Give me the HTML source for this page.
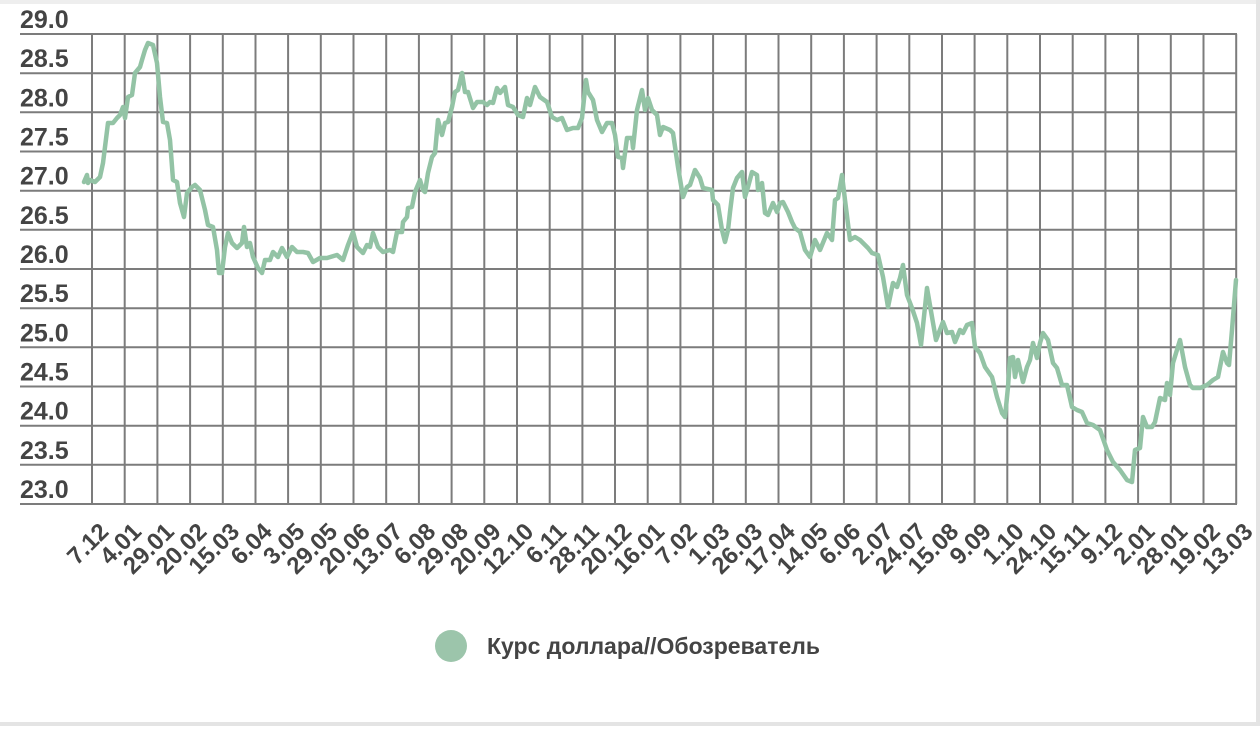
<!DOCTYPE html>
<html><head><meta charset="utf-8"><style>
html,body{margin:0;padding:0;background:#fff;}
body{width:1260px;height:726px;overflow:hidden;}
</style></head><body>
<svg width="1260" height="726" viewBox="0 0 1260 726" xmlns="http://www.w3.org/2000/svg" font-family="Liberation Sans, sans-serif">
<rect x="0" y="0" width="1260" height="726" fill="#fff"/>
<rect x="0" y="0" width="1260" height="4" fill="#eeeeee"/>
<rect x="1256" y="0" width="4" height="726" fill="#e4e4e4"/>
<rect x="0" y="722" width="1260" height="4" fill="#e4e4e4"/>
<path stroke="#6e6e6e" stroke-width="2" opacity="0.9" fill="none" d="
M20 34H1237M20 73.2H1237M20 112.3H1237M20 151.5H1237M20 190.7H1237M20 229.8H1237M20 269H1237M20 308.2H1237M20 347.3H1237M20 386.5H1237M20 425.7H1237M20 464.8H1237M20 504H1237
M92 34V504M124.7 34V504M157.4 34V504M190.1 34V504M222.8 34V504M255.5 34V504M288.1 34V504M320.8 34V504M353.5 34V504M386.2 34V504M418.9 34V504M451.6 34V504M484.3 34V504M517 34V504M549.7 34V504M582.4 34V504M615 34V504M647.7 34V504M680.4 34V504M713.1 34V504M745.8 34V504M778.5 34V504M811.2 34V504M843.9 34V504M876.6 34V504M909.3 34V504M942 34V504M974.6 34V504M1007.3 34V504M1040 34V504M1072.7 34V504M1105.4 34V504M1138.1 34V504M1170.8 34V504M1203.5 34V504M1236.2 34V504"/>
<g fill="#444" font-size="25" font-weight="bold">
<text x="20" y="28">29.0</text><text x="20" y="67.2">28.5</text><text x="20" y="106.3">28.0</text><text x="20" y="145.5">27.5</text><text x="20" y="184.7">27.0</text><text x="20" y="223.8">26.5</text><text x="20" y="263">26.0</text><text x="20" y="302.2">25.5</text><text x="20" y="341.3">25.0</text><text x="20" y="380.5">24.5</text><text x="20" y="419.7">24.0</text><text x="20" y="458.8">23.5</text><text x="20" y="498">23.0</text>
</g>
<g fill="#444" font-size="24" font-weight="bold" text-anchor="end">
<text x="110" y="533" transform="rotate(-45 110 533)">7.12</text>
<text x="142.7" y="533" transform="rotate(-45 142.7 533)">4.01</text>
<text x="175.4" y="533" transform="rotate(-45 175.4 533)">29.01</text>
<text x="208.1" y="533" transform="rotate(-45 208.1 533)">20.02</text>
<text x="240.8" y="533" transform="rotate(-45 240.8 533)">15.03</text>
<text x="273.5" y="533" transform="rotate(-45 273.5 533)">6.04</text>
<text x="306.1" y="533" transform="rotate(-45 306.1 533)">3.05</text>
<text x="338.8" y="533" transform="rotate(-45 338.8 533)">29.05</text>
<text x="371.5" y="533" transform="rotate(-45 371.5 533)">20.06</text>
<text x="404.2" y="533" transform="rotate(-45 404.2 533)">13.07</text>
<text x="436.9" y="533" transform="rotate(-45 436.9 533)">6.08</text>
<text x="469.6" y="533" transform="rotate(-45 469.6 533)">29.08</text>
<text x="502.3" y="533" transform="rotate(-45 502.3 533)">20.09</text>
<text x="535" y="533" transform="rotate(-45 535 533)">12.10</text>
<text x="567.7" y="533" transform="rotate(-45 567.7 533)">6.11</text>
<text x="600.4" y="533" transform="rotate(-45 600.4 533)">28.11</text>
<text x="633" y="533" transform="rotate(-45 633 533)">20.12</text>
<text x="665.7" y="533" transform="rotate(-45 665.7 533)">16.01</text>
<text x="698.4" y="533" transform="rotate(-45 698.4 533)">7.02</text>
<text x="731.1" y="533" transform="rotate(-45 731.1 533)">1.03</text>
<text x="763.8" y="533" transform="rotate(-45 763.8 533)">26.03</text>
<text x="796.5" y="533" transform="rotate(-45 796.5 533)">17.04</text>
<text x="829.2" y="533" transform="rotate(-45 829.2 533)">14.05</text>
<text x="861.9" y="533" transform="rotate(-45 861.9 533)">6.06</text>
<text x="894.6" y="533" transform="rotate(-45 894.6 533)">2.07</text>
<text x="927.3" y="533" transform="rotate(-45 927.3 533)">24.07</text>
<text x="960" y="533" transform="rotate(-45 960 533)">15.08</text>
<text x="992.6" y="533" transform="rotate(-45 992.6 533)">9.09</text>
<text x="1025.3" y="533" transform="rotate(-45 1025.3 533)">1.10</text>
<text x="1058" y="533" transform="rotate(-45 1058 533)">24.10</text>
<text x="1090.7" y="533" transform="rotate(-45 1090.7 533)">15.11</text>
<text x="1123.4" y="533" transform="rotate(-45 1123.4 533)">9.12</text>
<text x="1156.1" y="533" transform="rotate(-45 1156.1 533)">2.01</text>
<text x="1188.8" y="533" transform="rotate(-45 1188.8 533)">28.01</text>
<text x="1221.5" y="533" transform="rotate(-45 1221.5 533)">19.02</text>
<text x="1254.2" y="533" transform="rotate(-45 1254.2 533)">13.03</text>
</g>
<polyline fill="none" stroke="#93c3a5" stroke-width="4.5" stroke-linejoin="round" stroke-linecap="round" points="84,182 87,175 88,183 90,180 95,182 100,177 103,163 108,123 113,123 117,118 120,115 123,107 125,118 128,97 132,95 135,73 140,67 142,60 145,50 148,43 153,45 157,63 160,97 163,122 167,123 170,140 173,180 177,182 180,203 184,217 187,193 192,187 195,185 200,190 205,210 208,225 213,227 217,250 219,273 222,273 225,247 228,233 232,243 237,248 242,243 244,227 247,247 250,243 253,257 258,268 262,273 265,260 270,260 273,252 278,257 282,248 287,257 292,247 297,252 303,252 308,253 313,262 320,258 327,258 337,255 343,260 348,245 353,232 357,247 363,253 367,245 370,247 373,233 378,247 383,252 390,250 393,252 397,232 402,232 403,222 407,217 408,208 412,207 415,192 420,180 423,190 425,192 428,173 432,157 435,153 438,120 442,135 445,123 448,122 452,107 455,92 458,90 462,73 465,92 468,92 473,108 477,102 483,102 487,105 490,102 493,103 497,88 500,93 505,87 508,105 513,107 518,115 523,117 527,98 530,105 535,87 540,97 547,102 552,117 557,120 562,118 567,130 573,128 578,128 582,118 586,80 588,92 593,100 597,120 602,132 607,123 612,123 615,135 618,157 622,158 623,168 627,138 632,138 633,148 637,110 642,90 645,110 648,98 652,110 657,115 660,135 663,127 670,130 673,133 678,167 683,197 687,187 690,185 695,170 700,178 703,188 712,190 713,200 718,205 722,230 725,242 728,230 730,212 733,188 737,178 742,172 745,197 748,187 752,172 757,175 758,190 762,183 765,213 768,215 773,203 777,212 780,203 783,202 788,212 792,222 795,228 800,232 805,250 810,257 815,240 820,250 827,233 832,240 835,200 838,198 842,175 845,200 850,240 855,237 860,240 865,245 868,248 872,253 878,255 883,277 888,307 893,283 897,287 900,278 903,265 907,295 912,308 917,323 921,345 927,288 932,317 936,340 943,322 947,333 952,332 955,342 960,330 963,333 967,325 972,323 975,347 980,353 985,367 992,377 997,397 1002,413 1005,417 1008,387 1010,358 1013,357 1015,377 1018,360 1023,382 1027,367 1030,360 1033,343 1037,358 1040,343 1043,333 1048,340 1053,363 1057,368 1062,385 1067,385 1072,407 1077,410 1082,412 1087,423 1093,425 1100,430 1107,450 1113,462 1120,470 1127,480 1132,482 1135,450 1140,448 1143,417 1147,427 1152,427 1155,422 1160,398 1165,400 1167,383 1170,395 1173,363 1180,340 1185,367 1190,385 1193,388 1200,388 1207,385 1213,380 1218,377 1223,352 1227,363 1229,365 1232,330 1236,280"/>
<circle cx="451" cy="646" r="16" fill="#9cc5ab"/>
<text x="487" y="654" fill="#444" font-size="23" font-weight="bold">Курс доллара//Обозреватель</text>
</svg>
</body></html>
